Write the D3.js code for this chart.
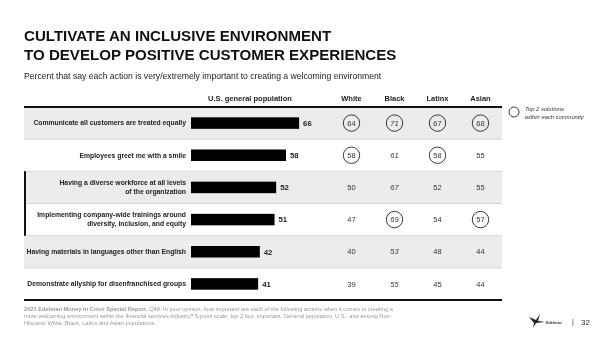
<!DOCTYPE html>
<html>
<head>
<meta charset="utf-8">
<script src="https://cdn.jsdelivr.net/npm/d3@7"></script>
<style>
  body { margin: 0; background: #fff; }
  svg { font-family: "Liberation Sans", Arial, sans-serif; display: block; -webkit-font-smoothing: antialiased; will-change: transform; }
</style>
</head>
<body>
<div id="chart"></div>
<script>
// data
const categories = [
  "Communicate all customers are treated equally",
  "Employees greet me with a smile",
  "Having a diverse workforce at all levels|of the organization",
  "Implementing company-wide trainings around|diversity, inclusion, and equity",
  "Having materials in languages other than English",
  "Demonstrate allyship for disenfranchised groups"
];
const generalPop = [66, 58, 52, 51, 42, 41];
const groups = ["White", "Black", "Latinx", "Asian"];
const white = [64, 58, 50, 47, 40, 39];
const black = [71, 61, 67, 69, 53, 55];
const latinx = [67, 58, 52, 54, 48, 45];
const asian = [68, 55, 55, 57, 44, 44];
const groupValues = [white, black, latinx, asian];

const width = 600, height = 337;
const tableLeft = 24, tableRight = 502;

const svg = d3.select("#chart").append("svg")
  .attr("width", width)
  .attr("height", height);

// titles
svg.append("text")
  .attr("x", 24).attr("y", 41)
  .attr("font-size", 15.1).attr("font-weight", "bold").attr("fill", "#111")
  .text("CULTIVATE AN INCLUSIVE ENVIRONMENT");
svg.append("text")
  .attr("x", 24).attr("y", 60)
  .attr("font-size", 15.1).attr("font-weight", "bold").attr("fill", "#111")
  .text("TO DEVELOP POSITIVE CUSTOMER EXPERIENCES");
svg.append("text")
  .attr("x", 24).attr("y", 79)
  .attr("font-size", 8.65).attr("fill", "#222")
  .text("Percent that say each action is very/extremely important to creating a welcoming environment");

// scales
const y = d3.scaleBand()
  .domain(d3.range(categories.length))
  .range([107, 300]);

const x = d3.scaleLinear()
  .domain([0, 100])
  .range([191, 354.8]);

const colX = d3.scaleBand()
  .domain(groups)
  .range([330, 502]);

// row backgrounds
svg.selectAll("rect.band")
  .data(categories)
  .enter()
  .append("rect")
  .attr("class", "band")
  .attr("x", tableLeft)
  .attr("y", (d, i) => y(i))
  .attr("width", tableRight - tableLeft)
  .attr("height", y.bandwidth())
  .attr("fill", (d, i) => i % 2 == 0 ? "#ececec" : "#fff");

// row separators
svg.selectAll("line.sep")
  .data(categories.slice(1))
  .enter()
  .append("line")
  .attr("x1", tableLeft).attr("x2", tableRight)
  .attr("y1", (d, i) => y(i + 1)).attr("y2", (d, i) => y(i + 1))
  .attr("stroke", "#d6d6d6")
  .attr("stroke-width", 1);

// left marker for rows 3-4
svg.append("line")
  .attr("x1", 25).attr("x2", 25)
  .attr("y1", y(2)).attr("y2", y(3) + y.bandwidth())
  .attr("stroke", "#111").attr("stroke-width", 2);

// top & bottom rules
svg.append("line")
  .attr("x1", tableLeft).attr("x2", tableRight)
  .attr("y1", 107).attr("y2", 107)
  .attr("stroke", "#111").attr("stroke-width", 2);
svg.append("line")
  .attr("x1", tableLeft).attr("x2", tableRight)
  .attr("y1", 300).attr("y2", 300)
  .attr("stroke", "#111").attr("stroke-width", 2);

// headers
svg.append("text")
  .attr("x", 250).attr("y", 101)
  .attr("text-anchor", "middle")
  .attr("font-size", 7.5).attr("font-weight", "bold").attr("fill", "#222")
  .text("U.S. general population");
svg.selectAll("text.colhead")
  .data(groups)
  .enter()
  .append("text")
  .attr("class", "colhead")
  .attr("x", d => colX(d) + colX.bandwidth() / 2)
  .attr("y", 101)
  .attr("text-anchor", "middle")
  .attr("font-size", 7.5).attr("font-weight", "bold").attr("fill", "#222")
  .text(d => d);

// category labels
const labels = svg.selectAll("text.cat")
  .data(categories)
  .enter()
  .append("text")
  .attr("class", "cat")
  .attr("text-anchor", "end")
  .attr("font-size", 6.8).attr("font-weight", "bold").attr("fill", "#222");
labels.each(function(d, i) {
  const lines = d.split("|");
  const cy = y(i) + y.bandwidth() / 2;
  const start = cy - (lines.length - 1) * 4.5 + 2.4;
  lines.forEach((ln, j) => {
    d3.select(this).append("tspan")
      .attr("x", 186)
      .attr("y", start + j * 9)
      .text(ln);
  });
});

// bars
const barH = 11.5;
svg.selectAll("rect.bar")
  .data(generalPop)
  .enter()
  .append("rect")
  .attr("class", "bar")
  .attr("x", x(0))
  .attr("y", (d, i) => y(i) + y.bandwidth() / 2 - barH / 2)
  .attr("width", d => x(d) - x(0))
  .attr("height", barH)
  .attr("fill", "#000");

svg.selectAll("text.barval")
  .data(generalPop)
  .enter()
  .append("text")
  .attr("class", "barval")
  .attr("x", d => x(d) + 4)
  .attr("y", (d, i) => y(i) + y.bandwidth() / 2 + 2.8)
  .attr("font-size", 7.8).attr("font-weight", "bold").attr("fill", "#222")
  .text(d => d);

// community columns, circling the top 2 in each
groups.forEach((g, gi) => {
  const vals = groupValues[gi];
  const top2 = vals.slice().sort((a, b) => b - a).slice(0, 2);
  const cx = colX(g) + colX.bandwidth() / 2;
  const col = svg.append("g");
  col.selectAll("circle")
    .data(vals.map((v, i) => ({ v, i })).filter(d => d.v >= top2[1]))
    .enter()
    .append("circle")
    .attr("cx", cx)
    .attr("cy", d => y(d.i) + y.bandwidth() / 2)
    .attr("r", 8.2)
    .attr("fill", "none")
    .attr("stroke", "#222")
    .attr("stroke-width", 0.9);
  col.selectAll("text")
    .data(vals)
    .enter()
    .append("text")
    .attr("x", cx)
    .attr("y", (d, i) => y(i) + y.bandwidth() / 2 + 2.6)
    .attr("text-anchor", "middle")
    .attr("font-size", 7.5)
    .attr("font-style", g == "Black" ? "italic" : "normal")
    .attr("fill", "#333")
    .text(d => d);
});

// legend
svg.append("circle")
  .attr("cx", 514).attr("cy", 112).attr("r", 5)
  .attr("fill", "none").attr("stroke", "#222").attr("stroke-width", 0.9);
svg.append("text")
  .attr("x", 525).attr("y", 111)
  .attr("font-size", 5.8).attr("font-style", "italic").attr("fill", "#333")
  .text("Top 2 solutions");
svg.append("text")
  .attr("x", 525).attr("y", 118.5)
  .attr("font-size", 5.8).attr("font-style", "italic").attr("fill", "#333")
  .text("within each community");

// footnote
const foot = svg.append("text")
  .attr("font-size", 5.7).attr("fill", "#999");
const footLines = [
  [["2021 Edelman Money In Color Special Report.", true], [" Q48. In your opinion, how important are each of the following actions when it comes to creating a", false]],
  [["more welcoming environment within the financial services industry? 5-point scale; top 2 box, important. General population, U.S., and among Non-", false]],
  [["Hispanic White, Black, Latinx and Asian populations.", false]]
];
footLines.forEach((ln, li) => {
  ln.forEach(([t, b], k) => {
    const ts = foot.append("tspan").text(t).attr("font-weight", b ? "bold" : "normal");
    if (k == 0) ts.attr("x", 24).attr("y", 310.5 + li * 7);
  });
});

// logo & page number
svg.append("path")
  .attr("d", "M529,317 L536,320 L540,314 L538,321 L545,322 L536,323 L533,328 L534,323 Z")
  .attr("fill", "#222");
svg.append("text")
  .attr("x", 546).attr("y", 323.5)
  .attr("font-size", 3.8).attr("font-weight", "bold").attr("fill", "#333")
  .text("Edelman");
svg.append("text")
  .attr("x", 572).attr("y", 324)
  .attr("font-size", 7).attr("fill", "#333")
  .text("|");
svg.append("text")
  .attr("x", 581).attr("y", 324.5)
  .attr("font-size", 8).attr("fill", "#333")
  .text("32");
</script>
</body>
</html>
